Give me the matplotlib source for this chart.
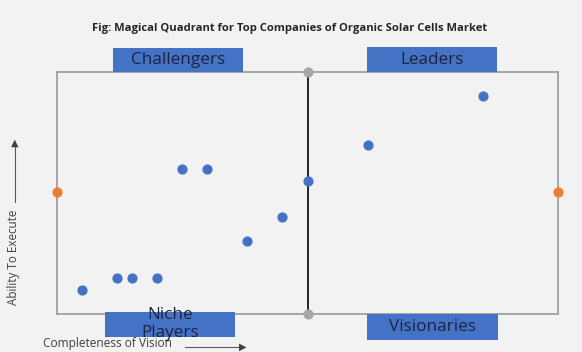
import matplotlib.pyplot as plt
from matplotlib.patches import Rectangle

# company positions (vision, execution)
vision = [0.5, 1.2, 1.5, 2.0, 2.5, 3.0, 3.8, 4.5, 5.0, 6.2, 8.5]
execution = [1.0, 1.5, 1.5, 1.5, 6.0, 6.0, 3.0, 4.0, 5.5, 7.0, 9.0]

# axis marker points
mid_x = [0, 10]
mid_y = [5.05, 5.05]
top_bot_x = [5, 5]
top_bot_y = [10, 0]

quadrants = ["Challengers", "Leaders", "Niche\nPlayers", "Visionaries"]

W, H = 582, 352
bg = "#f2f2f2"
fig = plt.figure(figsize=(W / 100, H / 100), dpi=100, facecolor=bg)
ax = fig.add_axes([57 / W, (H - 314) / H, 501 / W, 242 / H], facecolor=bg)
ax.set_xlim(0, 10)
ax.set_ylim(0, 10)
ax.set_xticks([])
ax.set_yticks([])
for s in ax.spines.values():
    s.set_color("#a0a0a0")
    s.set_linewidth(1.3)

ax.plot([5, 5], [0, 10], color="black", lw=1.2, zorder=2)
ax.scatter(top_bot_x, top_bot_y, s=40, color="#a6a6a6", zorder=3, clip_on=False)
ax.scatter(mid_x, mid_y, s=40, color="#ed7d31", zorder=3, clip_on=False)
ax.scatter(vision, execution, s=40, color="#4472c4", zorder=3, clip_on=False)

font = "Open Sans"
fig.text(290 / W, 1 - 28 / H,
         "Fig: Magical Quadrant for Top Companies of Organic Solar Cells Market",
         ha="center", va="center", fontsize=8.1, fontweight="bold",
         color="#262626", family=font)

# quadrant label boxes: (x0, y0, x1, y1) in pixels
boxes = [(113, 48, 243, 72), (367, 47, 497, 72), (105, 312, 235, 337), (367, 314, 498, 340)]
for (x0, y0, x1, y1), lab in zip(boxes, quadrants):
    fig.patches.append(Rectangle((x0 / W, 1 - y1 / H), (x1 - x0) / W, (y1 - y0) / H,
                                 transform=fig.transFigure, facecolor="#4472c4",
                                 edgecolor="none", zorder=5))
    if "\n" in lab:
        fig.text((x0 + x1) / 2 / W, 1 - 324 / H, lab, ha="center", va="center",
                 fontsize=12.3, color="#1a2440", family=font, linespacing=1.2, zorder=6)
    else:
        fig.text((x0 + x1) / 2 / W, 1 - (y0 + y1) / 2 / H, lab, ha="center", va="center",
                 fontsize=12.3, color="#1a2440", family=font, zorder=6)

# axis captions with arrows
fig.text(14 / W, 1 - 257 / H, "Ability To Execute", rotation=90, ha="center",
         va="center", fontsize=8.4, color="#404040", family=font)
fig.add_artist(plt.Line2D([15 / W, 15 / W], [1 - 202 / H, 1 - 146 / H],
                          color="#595959", lw=0.8))
fig.text(15 / W, 1 - 143 / H, "\u25b2", ha="center", va="center", fontsize=7,
         color="#404040")
fig.text(43 / W, 1 - 343 / H, "Completeness of Vision", ha="left", va="center",
         fontsize=8.6, color="#404040", family=font)
fig.add_artist(plt.Line2D([185 / W, 240 / W], [1 - 347 / H, 1 - 347 / H],
                          color="#595959", lw=0.8))
fig.text(243 / W, 1 - 347 / H, "\u25b6", ha="center", va="center", fontsize=7,
         color="#404040")

fig.savefig("out.png", dpi=100, facecolor=bg)
